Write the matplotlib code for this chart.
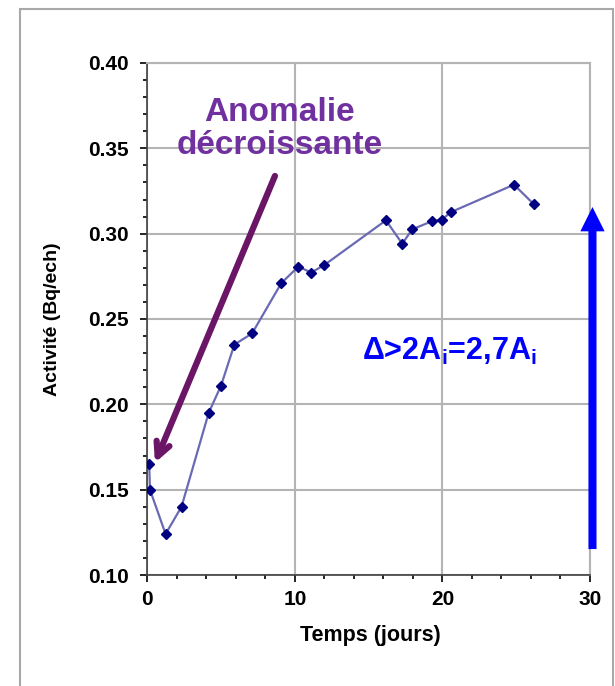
import matplotlib
matplotlib.use('Agg')
import matplotlib.pyplot as plt
from matplotlib.patches import Rectangle
from matplotlib.ticker import MultipleLocator, FormatStrFormatter

plt.rcParams['font.family'] = ['Liberation Sans', 'DejaVu Sans']
plt.rcParams['font.weight'] = 'bold'
plt.rcParams['mathtext.fontset'] = 'custom'
plt.rcParams['mathtext.rm'] = 'Liberation Sans:bold'
plt.rcParams['mathtext.it'] = 'Liberation Sans:bold'
plt.rcParams['mathtext.bf'] = 'Liberation Sans:bold'

# mesures : temps (jours) et activite (Bq/ech)
temps = [0.13, 0.18, 1.24, 2.32, 4.16, 5.0, 5.9, 7.1, 9.08, 10.24, 11.1, 11.98,
         16.17, 17.28, 17.95, 19.27, 19.95, 20.6, 24.85, 26.2]
activite = [0.165, 0.150, 0.124, 0.140, 0.195, 0.211, 0.235, 0.2415, 0.271, 0.2807,
            0.2772, 0.2815, 0.3078, 0.2941, 0.3025, 0.3072, 0.3082, 0.3127, 0.3287, 0.3172]

# fleche du delta : de la valeur initiale a la valeur max (hors axes)
delta_x = 30.17
delta_bas = 0.1152
delta_haut = 0.3156

fig = plt.figure(figsize=(6.15, 6.86), dpi=100)
fig.patches.append(Rectangle((20 / 615, -0.1), 593 / 615, 1.1 - 9 / 686,
                             transform=fig.transFigure, fill=False,
                             edgecolor='#a8a8a8', linewidth=1.5))

ax = fig.add_axes([0.2395, 0.1618, 0.7198, 0.7464])
ax.plot(temps, activite, '-', color='#6a6ab4', linewidth=1.6, zorder=3)
ax.plot(temps, activite, 'D', color='#000080', markersize=5, zorder=4)

ax.set_xlim(0, 30)
ax.set_ylim(0.10, 0.40)
ax.xaxis.set_major_locator(MultipleLocator(10))
ax.xaxis.set_minor_locator(MultipleLocator(2))
ax.yaxis.set_major_locator(MultipleLocator(0.05))
ax.yaxis.set_minor_locator(MultipleLocator(0.01))
ax.yaxis.set_major_formatter(FormatStrFormatter('%.2f'))
ax.grid(True, which='major', color='#b4b4b4', linewidth=1.5)
ax.tick_params(which='major', direction='out', length=5, width=1.2, labelsize=15, pad=8)
ax.tick_params(axis='x', which='major', pad=6)
ax.tick_params(which='minor', direction='out', length=3, width=1.2)
for side in ('top', 'right'):
    ax.spines[side].set_color('#b4b4b4')
    ax.spines[side].set_linewidth(1.5)
for side in ('left', 'bottom'):
    ax.spines[side].set_color('#404040')
    ax.spines[side].set_linewidth(1.2)

ax.set_xlabel('Temps (jours)', fontsize=15.5, fontweight='bold', va='center')
ax.xaxis.set_label_coords(0.505, -0.119)
ax.set_ylabel('Activité (Bq/ech)', fontsize=14, fontweight='bold', va='center')
ax.yaxis.set_label_coords(-0.215, 0.5)

ax.text(8.94, 0.3613, 'Anomalie\ndécroissante', color='#7030a0', fontsize=24,
        fontweight='bold', ha='center', va='center', linespacing=1.1, clip_on=False)
ax.annotate('', xy=(0.52, 0.1658), xytext=(8.65, 0.3338),
            arrowprops=dict(arrowstyle='->, head_length=1.0, head_width=0.5',
                            color='#6b1566', lw=4.5, shrinkA=0, shrinkB=0),
            annotation_clip=False)

ax.text(20.5, 0.2307, r'$\Delta$>2A$_i$=2,7A$_i$', color='#0000ff', fontsize=22,
        fontweight='bold', ha='center', va='center', clip_on=False)
ax.annotate('', xy=(delta_x, delta_haut), xytext=(delta_x, delta_bas),
            arrowprops=dict(arrowstyle='simple, head_length=1.75, head_width=1.75, tail_width=0.58',
                            color='#0000ff', lw=0, shrinkA=0, shrinkB=0),
            annotation_clip=False)

fig.savefig('out.png', dpi=100)
